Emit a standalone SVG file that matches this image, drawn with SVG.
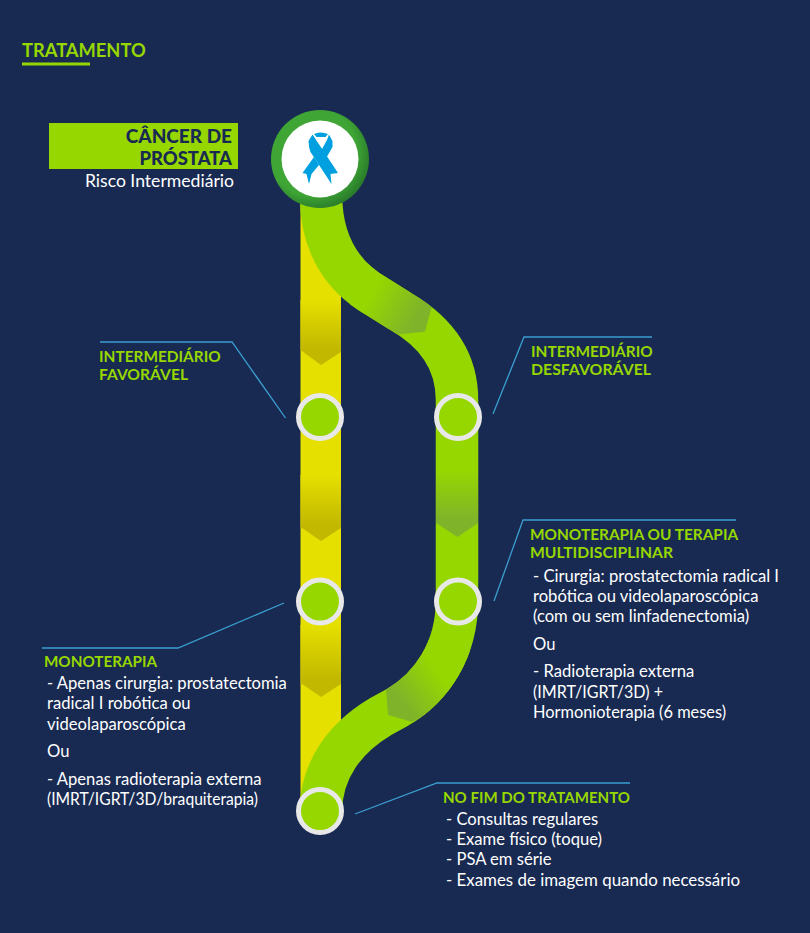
<svg xmlns="http://www.w3.org/2000/svg" width="810" height="933" viewBox="0 0 810 933">
<style>
text{font-family:"Lato","Open Sans",sans-serif;font-size:16.6px;fill:#fff}
.g{font-weight:700;fill:#97d700;font-size:15.4px}
.l{fill:none;stroke:#3a9fd0;stroke-width:1.3}
.ring{fill:#97d700;stroke:#e8e8e8;stroke-width:5}
.track{fill:none;stroke:#97d700;stroke-width:42.5}
</style>
<defs>
<linearGradient id="y" x1="0" y1="0" x2="0" y2="1"><stop offset="0" stop-color="#e6e000"/><stop offset=".75" stop-color="#c2b800"/></linearGradient>
<linearGradient id="gv" x1="0" y1="0" x2="0" y2="1"><stop offset="0" stop-color="#97d700"/><stop offset=".75" stop-color="#7fb32a"/></linearGradient>
<linearGradient id="g1" gradientUnits="userSpaceOnUse" x1="368" y1="300" x2="412" y2="326"><stop offset="0" stop-color="#97d700"/><stop offset="1" stop-color="#7fb32a"/></linearGradient>
<linearGradient id="g2" gradientUnits="userSpaceOnUse" x1="438" y1="672" x2="400" y2="700"><stop offset="0" stop-color="#97d700"/><stop offset="1" stop-color="#7fb32a"/></linearGradient>
<radialGradient id="rg" cx=".42" cy=".42" r=".6"><stop offset=".75" stop-color="#3fa535"/><stop offset="1" stop-color="#2a7d2a"/></radialGradient>
<path id="tr" d="M321 195C321 245 343 277 376 296L400 311C436 332 457 360 457 400V600C457 650 432 687 398 707L380 717C345 738 321 770 321 811"/>
<mask id="m" maskUnits="userSpaceOnUse" x="0" y="0" width="810" height="933"><use href="#tr" fill="none" stroke="#fff" stroke-width="42.5"/></mask>
</defs>
<rect width="810" height="933" fill="#182a52"/>
<g id="connectors">
<rect x="300.500" y="200" width="40.500" height="610" fill="#e6e000"/>
<path d="M300.500 300H341V352L321 365L300.500 350Z" fill="url(#y)"/>
<path d="M300.500 475H341V528L321 541L300.500 527Z" fill="url(#y)"/>
<path d="M300.500 625H341V684L321 697L300.500 683Z" fill="url(#y)"/>
<use href="#tr" class="track"/>
<path d="M436 470H478V523L457.500 537L436 523Z" fill="url(#gv)"/>
<g mask="url(#m)">
<path d="M431.700 306.700L425 331.700L401.700 334L350 340V260L400 270Z" fill="url(#g1)"/>
<path d="M386 689L388 715L411.700 721.700L470 700V640H400Z" fill="url(#g2)"/>
</g>
<path class="l" d="M285.500 418L232 342H100"/>
<path class="l" d="M493 414L524 337H652"/>
<path class="l" d="M494 601L523 520H736"/>
<path class="l" d="M284 603L178 648H42"/>
<path class="l" d="M355 814L437 783H630"/>
</g>
<g id="title"><text x="22" y="56.500" style="font-size:18.300px;font-weight:700;fill:#97d700">TRATAMENTO</text><rect x="22" y="62.500" width="68" height="3" fill="#97d700"/></g>
<g id="head"><rect x="49" y="123" width="189" height="46" fill="#97d700"/>
<text x="232" y="143" text-anchor="end" style="font-size:19px;font-weight:900;fill:#182a52">CÂNCER DE</text>
<text x="232" y="165" text-anchor="end" style="font-size:18.400px;font-weight:900;fill:#182a52">PRÓSTATA</text>
<text x="234" y="187" text-anchor="end" style="font-size:17.600px">Risco Intermediário</text></g>
<g id="n-top"><circle cx="320" cy="159" r="49" fill="url(#rg)"/><circle cx="320" cy="159" r="38.500" fill="#fff"/>
<g id="ribbon" fill="#00a0e0">
<path d="M308.500 141L312.500 134.500L338 173L330.500 174L331.500 184L310.500 152Q308.500 147 308.500 141Z"/>
<path d="M329 134.500L332.500 141V147L326.500 157.500L321.500 150L327 140Z"/>
<path d="M314 157L319 165L311.500 174L309 184L306.500 174L302.500 173Z"/>
<path d="M314 134Q320 131 328 134L325.500 137H316.500Z"/>
</g></g>
<g id="n1"><circle class="ring" cx="320" cy="417" r="21.500"/></g>
<g id="n2"><circle class="ring" cx="458" cy="417" r="21.500"/></g>
<g id="n3"><circle class="ring" cx="320" cy="601.500" r="21.500"/></g>
<g id="n4"><circle class="ring" cx="458" cy="601.500" r="21.500"/></g>
<g id="n5"><circle class="ring" cx="320" cy="811" r="21.500"/></g>
<g id="t1"><text class="g" x="99" y="362">INTERMEDIÁRIO</text><text class="g" x="99" y="380" textLength="89" lengthAdjust="spacingAndGlyphs">FAVORÁVEL</text></g>
<g id="t2"><text class="g" x="531" y="357">INTERMEDIÁRIO</text><text class="g" x="531" y="375" textLength="120" lengthAdjust="spacingAndGlyphs">DESFAVORÁVEL</text></g>
<g id="t3"><text class="g" x="530" y="540">MONOTERAPIA OU TERAPIA</text><text class="g" x="530" y="558" textLength="143" lengthAdjust="spacingAndGlyphs">MULTIDISCIPLINAR</text>
<text x="533" y="582">- Cirurgia: prostatectomia radical I</text><text x="533" y="602">robótica ou videolaparoscópica</text><text x="533" y="622">(com ou sem linfadenectomia)</text><text x="533" y="650">Ou</text><text x="533" y="677">- Radioterapia externa</text><text x="533" y="698" textLength="130" lengthAdjust="spacingAndGlyphs">(IMRT/IGRT/3D) +</text><text x="533" y="718" textLength="193" lengthAdjust="spacingAndGlyphs">Hormonioterapia (6 meses)</text></g>
<g id="t4"><text class="g" x="44" y="667" textLength="113" lengthAdjust="spacingAndGlyphs">MONOTERAPIA</text>
<text x="47" y="689">- Apenas cirurgia: prostatectomia</text><text x="47" y="709">radical I robótica ou</text><text x="47" y="730">videolaparoscópica</text><text x="47" y="757">Ou</text><text x="47" y="785">- Apenas radioterapia externa</text><text x="47" y="805" textLength="211" lengthAdjust="spacingAndGlyphs">(IMRT/IGRT/3D/braquiterapia)</text></g>
<g id="t5"><text class="g" x="443" y="803" textLength="187" lengthAdjust="spacingAndGlyphs">NO FIM DO TRATAMENTO</text>
<text x="446" y="825">- Consultas regulares</text><text x="446" y="845">- Exame físico (toque)</text><text x="446" y="865">- PSA em série</text><text x="446" y="886" textLength="294" lengthAdjust="spacingAndGlyphs">- Exames de imagem quando necessário</text></g>
</svg>
